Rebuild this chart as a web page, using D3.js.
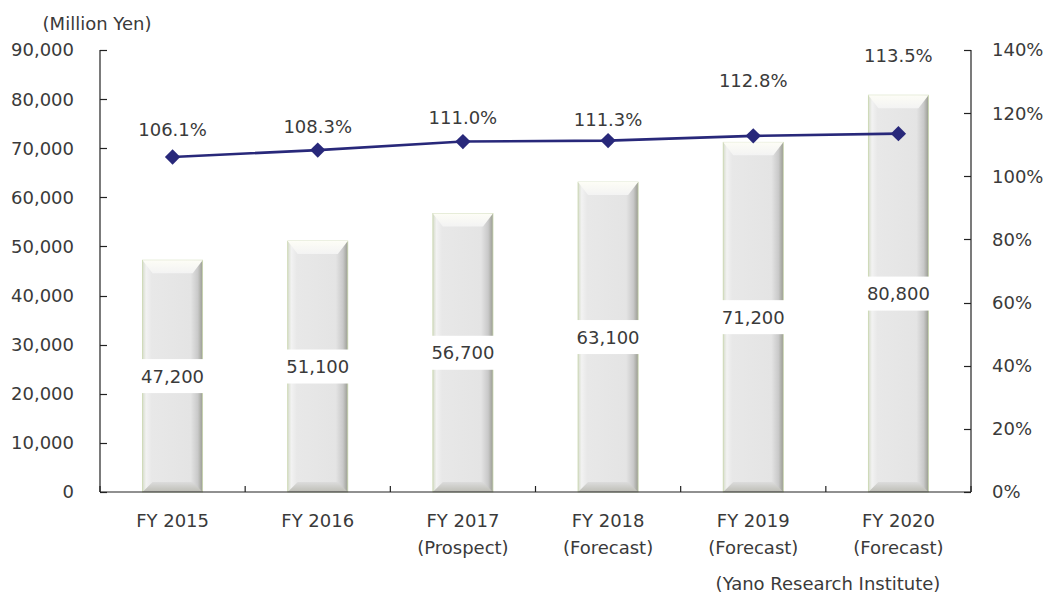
<!DOCTYPE html>
<html>
<head>
<meta charset="utf-8">
<script src="https://cdn.jsdelivr.net/npm/d3@7"></script>
<style>
  body { margin: 0; background: #fff; }
  text { font-family: "DejaVu Sans", sans-serif; fill: #3a3a3a; }
</style>
</head>
<body>
<div id="chart"></div>
<script>
// chart data
var years = ["FY 2015", "FY 2016", "FY 2017", "FY 2018", "FY 2019", "FY 2020"];
var notes = ["", "", "(Prospect)", "(Forecast)", "(Forecast)", "(Forecast)"];
var sales = [47200, 51100, 56700, 63100, 71200, 80800];
var growth = [106.1, 108.3, 111.0, 111.3, 112.8, 113.5];
var leftTicks = [0, 10000, 20000, 30000, 40000, 50000, 60000, 70000, 80000, 90000];
var rightTicks = [0, 20, 40, 60, 80, 100, 120, 140];

// layout (note: "top" is taken by window.top, so plot* names)
var W = 1045, H = 598;
var plotL = 100, plotR = 971, plotT = 50, plotB = 492;
// how far above each point the % label sits (hand placed in the original)
var pctLabelDy = [-28, -24, -24, -21, -55, -78];

var svg = d3.select("#chart").append("svg")
  .attr("width", W).attr("height", H);

var x = d3.scaleBand().domain(years).range([plotL, plotR]).paddingInner(0.586).paddingOuter(0.293);
var yL = d3.scaleLinear().domain([0, 90000]).range([plotB, plotT]);
var yR = d3.scaleLinear().domain([0, 140]).range([plotB, plotT]);
var cx = function(i) { return x(years[i]) + x.bandwidth() / 2; };

// gradients for the bevelled bars
var defs = svg.append("defs");
var g1 = defs.append("linearGradient").attr("id", "barFace").attr("x1", 0).attr("x2", 1).attr("y1", 0).attr("y2", 0);
[["0%", "#d6dccb"], ["6%", "#f2f2f2"], ["15%", "#e8e8e8"], ["80%", "#e4e4e4"], ["92%", "#c9c9c9"], ["100%", "#9a9c92"]]
  .forEach(function(s) { g1.append("stop").attr("offset", s[0]).attr("stop-color", s[1]); });
var g2 = defs.append("linearGradient").attr("id", "barTop").attr("x1", 0).attr("x2", 0).attr("y1", 0).attr("y2", 1);
[["0%", "#fdfdf6"], ["100%", "#f3f3f3"]]
  .forEach(function(s) { g2.append("stop").attr("offset", s[0]).attr("stop-color", s[1]); });
var g3 = defs.append("linearGradient").attr("id", "barBot").attr("x1", 0).attr("x2", 0).attr("y1", 0).attr("y2", 1);
[["0%", "#dcdcdc"], ["100%", "#bdbdb5"]]
  .forEach(function(s) { g3.append("stop").attr("offset", s[0]).attr("stop-color", s[1]); });

// bars
var bw = x.bandwidth(), bev = 10;
var bars = svg.append("g").selectAll("g").data(sales).enter().append("g");
bars.append("rect")
  .attr("x", function(d, i) { return x(years[i]); })
  .attr("y", function(d) { return yL(d); })
  .attr("width", bw)
  .attr("height", function(d) { return plotB - yL(d); })
  .attr("fill", "url(#barFace)")
  .attr("stroke", "#c9d6ae").attr("stroke-width", 0.8);
bars.append("path")
  .attr("d", function(d, i) {
    var x0 = x(years[i]), y0 = yL(d);
    return "M" + x0 + "," + y0 + "L" + (x0 + bw) + "," + y0 + "L" + (x0 + bw - bev) + "," + (y0 + bev * 1.3) +
      "L" + (x0 + bev) + "," + (y0 + bev * 1.3) + "Z";
  })
  .attr("fill", "url(#barTop)");
bars.append("path")
  .attr("d", function(d, i) {
    var x0 = x(years[i]);
    return "M" + (x0 + bev) + "," + (plotB - bev) + "L" + (x0 + bw - bev) + "," + (plotB - bev) +
      "L" + (x0 + bw) + "," + plotB + "L" + x0 + "," + plotB + "Z";
  })
  .attr("fill", "url(#barBot)");

// value labels with white box across the bar
bars.each(function(d, i) {
  var g = d3.select(this);
  var my = (yL(d) + plotB) / 2;
  var t = g.append("text")
    .attr("x", cx(i)).attr("y", my).attr("dy", "0.36em")
    .attr("text-anchor", "middle").attr("font-size", 18)
    .text(d3.format(",")(d));
  var w = Math.max(t.node().getComputedTextLength() + 4, bw + 2);
  g.insert("rect", "text")
    .attr("x", cx(i) - w / 2).attr("y", my - 17)
    .attr("width", w).attr("height", 34)
    .attr("fill", "#fff");
});

// axes
var axisColor = "#222";
var ax = svg.append("g").attr("stroke", axisColor).attr("stroke-width", 1.2).attr("fill", "none");
ax.append("line").attr("x1", plotL).attr("x2", plotL).attr("y1", plotT).attr("y2", plotB);
ax.append("line").attr("x1", plotR).attr("x2", plotR).attr("y1", plotT).attr("y2", plotB);
ax.append("line").attr("x1", plotL).attr("x2", plotR).attr("y1", plotB).attr("y2", plotB);
ax.selectAll(".tl").data(leftTicks).enter().append("line")
  .attr("x1", plotL).attr("x2", plotL + 7)
  .attr("y1", function(d) { return Math.round(yL(d)) + 0.5; })
  .attr("y2", function(d) { return Math.round(yL(d)) + 0.5; });
ax.selectAll(".tr").data(rightTicks).enter().append("line")
  .attr("x1", plotR - 7).attr("x2", plotR)
  .attr("y1", function(d) { return Math.round(yR(d)) + 0.5; })
  .attr("y2", function(d) { return Math.round(yR(d)) + 0.5; });
var step = (plotR - plotL) / years.length;
ax.selectAll(".tx").data(d3.range(years.length + 1)).enter().append("line")
  .attr("x1", function(i) { return plotL + i * step; })
  .attr("x2", function(i) { return plotL + i * step; })
  .attr("y1", plotB - 6).attr("y2", plotB);

svg.append("g").selectAll("text").data(leftTicks).enter().append("text")
  .attr("x", 74).attr("y", function(d) { return yL(d); }).attr("dy", "0.36em")
  .attr("text-anchor", "end").attr("font-size", 18)
  .text(function(d) { return d3.format(",")(d); });
svg.append("g").selectAll("text").data(rightTicks).enter().append("text")
  .attr("x", 992).attr("y", function(d) { return yR(d); }).attr("dy", "0.36em")
  .attr("text-anchor", "start").attr("font-size", 18)
  .text(function(d) { return d + "%"; });

svg.append("text").attr("x", 97).attr("y", 30).attr("text-anchor", "middle")
  .attr("font-size", 18).text("(Million Yen)");

var xl = svg.append("g").selectAll("text").data(years).enter().append("text")
  .attr("x", function(d, i) { return cx(i); }).attr("y", 527)
  .attr("text-anchor", "middle").attr("font-size", 18);
xl.append("tspan").attr("x", function(d, i) { return cx(i); }).text(function(d) { return d; });
xl.append("tspan").attr("x", function(d, i) { return cx(i); }).attr("dy", 27)
  .text(function(d, i) { return notes[i]; });

svg.append("text").attr("x", 828).attr("y", 590).attr("text-anchor", "middle")
  .attr("font-size", 18).text("(Yano Research Institute)");

// growth line
var lineColor = "#28287a";
svg.append("path").datum(growth)
  .attr("d", d3.line().x(function(d, i) { return cx(i); }).y(function(d) { return yR(d); }))
  .attr("fill", "none").attr("stroke", lineColor).attr("stroke-width", 2.6);
svg.append("g").selectAll("path").data(growth).enter().append("path")
  .attr("d", d3.symbol().type(d3.symbolDiamond2).size(150))
  .attr("transform", function(d, i) { return "translate(" + cx(i) + "," + yR(d) + ")"; })
  .attr("fill", lineColor);
svg.append("g").selectAll("text").data(growth).enter().append("text")
  .attr("x", function(d, i) { return cx(i); })
  .attr("y", function(d, i) { return yR(d) + pctLabelDy[i]; })
  .attr("dy", "0.36em").attr("text-anchor", "middle").attr("font-size", 18)
  .text(function(d) { return d.toFixed(1) + "%"; });
</script>
</body>
</html>
